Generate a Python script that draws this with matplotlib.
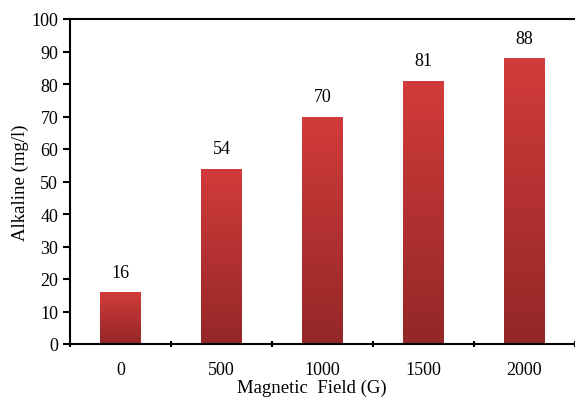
import matplotlib
matplotlib.use("Agg")
import matplotlib.pyplot as plt
import numpy as np
from matplotlib.colors import LinearSegmentedColormap

categories = ["0", "500", "1000", "1500", "2000"]
values = [16, 54, 70, 81, 88]

plt.rcParams['font.family'] = ['Liberation Serif', 'DejaVu Serif']

fig = plt.figure(figsize=(5.75, 4.02), dpi=100)
ax = fig.add_axes([70/575, 57/402, 1 - 70/575, (345-20)/402])

x = np.arange(len(categories))
bars = ax.bar(x, values, width=0.4, color='none', edgecolor='none', zorder=2)

cmap = LinearSegmentedColormap.from_list('grad', ['#942727', '#d23b3b'])
grad = np.linspace(0, 1, 256).reshape(-1, 1)
for b in bars:
    x0, y0 = b.get_x(), b.get_y()
    w, h = b.get_width(), b.get_height()
    im = ax.imshow(grad, cmap=cmap, aspect='auto', origin='lower',
                   extent=[x0, x0 + w, y0, y0 + h], zorder=2)
    im.set_clip_path(b)

for xi, v in zip(x, values):
    ax.text(xi, v + 3.5, str(v), ha='center', va='bottom', fontsize=13)

ax.set_xlim(-0.5, 4.43)
ax.set_ylim(0, 100)
ax.set_yticks(np.arange(0, 101, 10))
ax.set_xticks(x)
ax.set_xticklabels(categories, fontsize=13)
ax.set_xticks(np.arange(-0.5, 5, 1), minor=True)
ax.tick_params(axis='x', which='major', length=0, pad=12)
ax.tick_params(axis='x', which='minor', length=5, width=1.5, direction='inout')
ax.tick_params(axis='y', length=5, width=1.5, direction='out', labelsize=13)

for s in ['left', 'bottom', 'top']:
    ax.spines[s].set_linewidth(1.5)
ax.spines['right'].set_visible(False)

ax.set_ylabel('Alkaline (mg/l)', fontsize=13.5)
ax.set_xlabel('Magnetic  Field (G)', fontsize=13.5)
ax.yaxis.set_label_coords(-(70 - 29) / 505, 0.5)
ax.xaxis.set_label_coords((312 - 70) / 505, -(380 - 345) / 325)

fig.savefig('out.png', dpi=100)
